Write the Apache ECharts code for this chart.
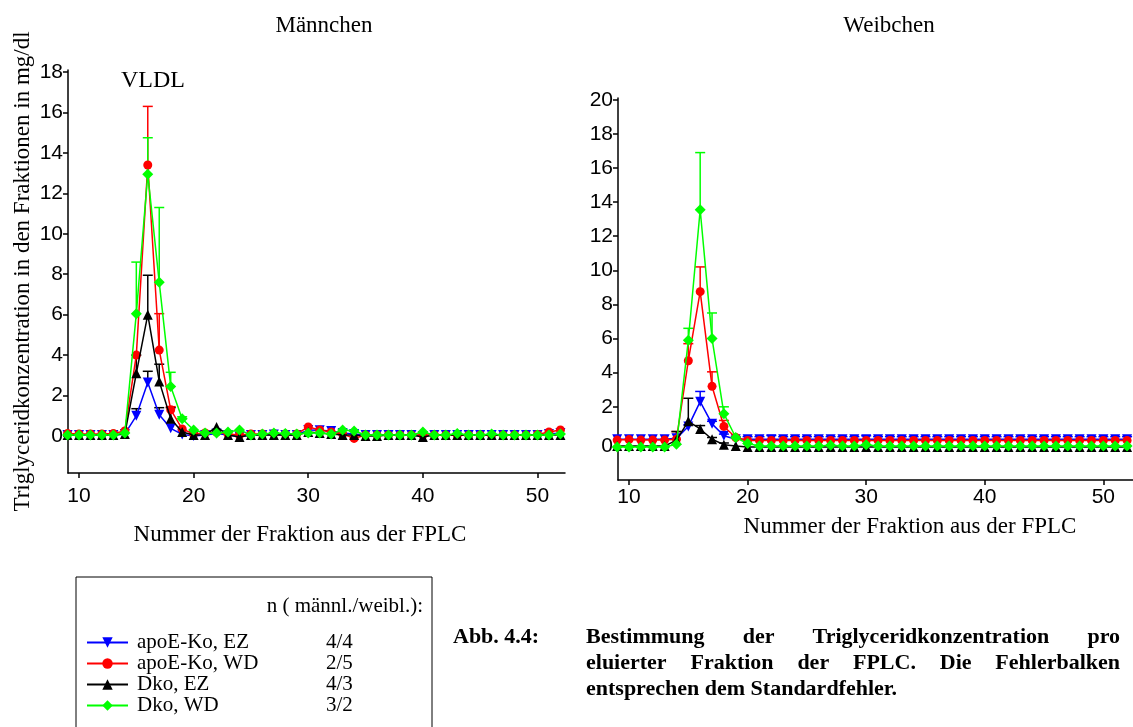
<!DOCTYPE html>
<html><head><meta charset="utf-8">
<script src="https://cdn.jsdelivr.net/npm/echarts@6/dist/echarts.min.js"></script>
<style>html,body{margin:0;padding:0;background:#fff}#c{width:1133px;height:727px}</style>
</head><body><div id="c"></div>
<script>
// ---------- DATA ----------
const fractions = [9,10,11,12,13,14,15,16,17,18,19,20,21,22,23,24,25,26,27,28,29,30,31,32,33,34,35,36,37,38,39,40,41,42,43,44,45,46,47,48,49,50,51,52];
const xTicks = [10,20,30,40,50];
const yTicksM = [0,2,4,6,8,10,12,14,16,18];
const yTicksW = [0,2,4,6,8,10,12,14,16,18,20];
const seriesNames = ['apoE-Ko, EZ','apoE-Ko, WD','Dko, EZ','Dko, WD'];
const nCounts = ['4/4','2/5','4/3','3/2'];

// Männchen (males)
const blueM  = [0.05,0.05,0.05,0.05,0.05,0.1,1.0,2.65,1.05,0.38,0.08,0.0,0.05,0.12,0.05,-0.02,0.05,0.05,0.08,0.05,0.05,0.3,0.28,0.25,0.15,0.1,0.05,0.05,0.05,0.05,0.05,0.0,0.05,0.05,0.05,0.05,0.05,0.05,0.05,0.05,0.05,0.05,0.1,0.15];
const redM   = [0.12,0.1,0.1,0.1,0.12,0.25,4.0,13.4,4.25,1.3,0.35,0.1,0.15,0.2,0.1,0.05,0.1,0.1,0.12,0.1,0.1,0.45,0.3,0.2,0.1,-0.12,0.05,0.05,0.05,0.05,0.05,0.05,0.05,0.05,0.05,0.05,0.05,0.05,0.05,0.05,0.05,0.08,0.2,0.3];
const blackM = [0.05,0.05,0.05,0.05,0.05,0.1,3.1,6.0,2.7,0.85,0.2,0.05,0.05,0.45,0.05,-0.05,0.05,0.05,0.05,0.05,0.05,0.2,0.15,0.1,0.05,0.05,0.0,0.0,0.05,0.05,0.05,-0.05,0.05,0.05,0.05,0.05,0.05,0.05,0.05,0.05,0.05,0.05,0.05,0.05];
const greenM = [0.05,0.05,0.05,0.05,0.05,0.15,6.05,12.95,7.6,2.45,0.85,0.3,0.15,0.15,0.2,0.3,0.05,0.1,0.15,0.12,0.1,0.15,0.15,0.1,0.3,0.25,0.05,0.05,0.05,0.05,0.05,0.2,0.05,0.05,0.12,0.05,0.05,0.1,0.05,0.05,0.05,0.05,0.05,0.1];
const blueErrM  = [0,0,0,0,0,0,0.35,0.55,0.35,0,0,0,0,0,0,0,0,0,0,0,0,0,0,0,0,0,0,0,0,0,0,0,0,0,0,0,0,0,0,0,0,0,0,0];
const redErrM   = [0,0,0,0,0,0,0,2.9,1.8,0.15,0,0,0,0,0,0,0,0,0,0,0,0,0,0,0,0,0,0,0,0,0,0,0,0,0,0,0,0,0,0,0,0,0,0];
const blackErrM = [0,0,0,0,0,0,0.9,1.95,0.85,0.55,0,0,0,0,0,0,0,0,0,0,0,0,0,0,0,0,0,0,0,0,0,0,0,0,0,0,0,0,0,0,0,0,0,0];
const greenErrM = [0,0,0,0,0,0,2.55,1.8,3.7,0.7,0.1,0,0,0,0,0,0,0,0,0,0,0,0,0,0,0,0,0,0,0,0,0,0,0,0,0,0,0,0,0,0,0,0,0];

// Weibchen (females)
const blueW  = [0.1,0.1,0.1,0.1,0.1,0.15,0.85,2.3,1.0,0.3,0.1,0.1,0.1,0.1,0.1,0.1,0.1,0.1,0.1,0.1,0.1,0.1,0.1,0.1,0.1,0.1,0.1,0.1,0.1,0.1,0.1,0.1,0.1,0.1,0.1,0.1,0.1,0.1,0.1,0.1,0.1,0.1,0.1,0.1];
const redW   = [0.05,0.08,0.05,0.05,0.05,0.1,4.7,8.75,3.2,0.85,0.2,0.03,0.03,0.03,0.03,0.03,0.03,0.03,0.03,0.03,0.03,0.03,0.03,0.03,0.03,0.03,0.03,0.03,0.03,0.03,0.03,0.03,0.03,0.03,0.03,0.03,0.03,0.03,0.03,0.03,0.03,0.03,0.03,0.03];
const blackW = [-0.3,-0.3,-0.3,-0.3,-0.3,0.05,1.15,0.7,0.1,-0.22,-0.3,-0.35,-0.35,-0.35,-0.35,-0.35,-0.35,-0.35,-0.35,-0.35,-0.35,-0.35,-0.35,-0.35,-0.35,-0.35,-0.35,-0.35,-0.35,-0.35,-0.35,-0.35,-0.35,-0.35,-0.35,-0.35,-0.35,-0.35,-0.35,-0.35,-0.35,-0.35,-0.35,-0.35];
const greenW = [-0.35,-0.35,-0.35,-0.35,-0.35,-0.2,5.9,13.55,6.0,1.6,0.2,-0.15,-0.3,-0.3,-0.3,-0.3,-0.3,-0.3,-0.25,-0.3,-0.3,-0.22,-0.3,-0.3,-0.3,-0.3,-0.3,-0.3,-0.3,-0.3,-0.3,-0.3,-0.3,-0.3,-0.3,-0.3,-0.3,-0.3,-0.3,-0.3,-0.3,-0.3,-0.3,-0.3];
const blueErrW  = [0,0,0,0,0,0,0.1,0.6,0.15,0.1,0.15,0.15,0.15,0.22,0.15,0.15,0.15,0.15,0.15,0.15,0.15,0.2,0.15,0.15,0.15,0.15,0.15,0.15,0.15,0.15,0.15,0.15,0.15,0.15,0.15,0.15,0.15,0.15,0.15,0.15,0.15,0.15,0.15,0.15];
const redErrW   = [0,0,0,0,0,0.45,1.0,1.45,0.85,0.35,0,0,0,0,0,0,0,0,0,0,0,0,0,0,0,0,0,0,0,0,0,0,0,0,0,0,0,0,0,0,0,0,0,0];
const blackErrW = [0,0,0,0,0,0.5,1.35,0.2,0.1,0.1,0,0,0,0,0,0,0,0,0,0,0,0,0,0,0,0,0,0,0,0,0,0,0,0,0,0,0,0,0,0,0,0,0,0];
const greenErrW = [0,0,0,0,0,0,0.7,3.35,1.5,0.4,0,0,0,0,0,0,0,0,0,0,0,0,0,0,0,0,0,0,0,0,0,0,0,0,0,0,0,0,0,0,0,0,0,0];

const captionLines = [
  'Bestimmung der Triglyceridkonzentration pro',
  'eluierter Fraktion der FPLC. Die Fehlerbalken',
  'entsprechen dem Standardfehler.'
];

// ---------- STYLE ----------
const SERIF = '"Liberation Serif","Times New Roman",serif';
const SANS = '"Liberation Sans",Arial,sans-serif';
const colors = ['#0000ff','#ff0000','#000000','#00ff00'];
const symbols = ['triangle','circle','triangle','diamond'];
const rotates = [180,0,0,0];
const sizes = [10,9,10,11];
const TICKFONT = 21;

function pairs(vals){ return fractions.map((f,i)=>[f, vals[i]]); }
function errData(vals, errs){ return fractions.map((f,i)=>[f, vals[i], errs[i]]).filter(d=>d[2]>0); }

function errSeries(idx, vals, errs, color){
  return {
    type:'custom', xAxisIndex:idx, yAxisIndex:idx, data: errData(vals, errs), z:2, silent:true,
    renderItem:function(params, api){
      const p0 = api.coord([api.value(0), api.value(1)]);
      const p1 = api.coord([api.value(0), api.value(1)+api.value(2)]);
      const st = {stroke:color, lineWidth:1.5};
      return {type:'group', children:[
        {type:'line', shape:{x1:p0[0],y1:p0[1],x2:p1[0],y2:p1[1]}, style:st},
        {type:'line', shape:{x1:p1[0]-5,y1:p1[1],x2:p1[0]+5,y2:p1[1]}, style:st}
      ]};
    }
  };
}
function lineSeries(idx, k, vals){
  return {
    type:'line', name:seriesNames[k], xAxisIndex:idx, yAxisIndex:idx, data:pairs(vals),
    symbol:symbols[k], symbolRotate:rotates[k], symbolSize:sizes[k], showSymbol:true,
    lineStyle:{color:colors[k], width:1.5}, itemStyle:{color:colors[k]}, z:3+k, clip:false
  };
}
function xAxis(idx, min, max, labelMargin){
  return {type:'value', gridIndex:idx, min:min, max:max,
    axisLine:{show:true, onZero:false, lineStyle:{color:'#000', width:1.5}},
    axisTick:{show:true, length:5, lineStyle:{color:'#000', width:1.5}, customValues:xTicks},
    axisLabel:{color:'#000', fontFamily:SANS, fontSize:TICKFONT, margin:labelMargin, customValues:xTicks},
    splitLine:{show:false}};
}
function yAxis(idx, min, max, ticks, extra, labelExtra){
  return Object.assign({type:'value', gridIndex:idx, min:min, max:max,
    axisLine:{show:true, onZero:false, lineStyle:{color:'#000', width:1.5}},
    axisTick:{show:true, length:5, lineStyle:{color:'#000', width:1.5}, customValues:ticks},
    axisLabel:Object.assign({color:'#000', fontFamily:SANS, fontSize:TICKFONT, margin:5, customValues:ticks}, labelExtra||{}),
    splitLine:{show:false}}, extra||{});
}

// justified caption lines (layout only)
const mctx = document.createElement('canvas').getContext('2d');
const CAPFONT = 'bold 22px ' + SERIF;
mctx.font = CAPFONT;
function justified(text, x0, x1, y, justify){
  const words = text.split(' ');
  if(!justify){ return [{type:'text', x:x0, y:y, style:{text:text, font:CAPFONT, fill:'#000', textVerticalAlign:'middle'}}]; }
  const widths = words.map(w=>mctx.measureText(w).width);
  const total = widths.reduce((a,b)=>a+b,0);
  const gap = (x1-x0-total)/(words.length-1);
  let x = x0; const out = [];
  words.forEach((w,i)=>{ out.push({type:'text', x:x, y:y, style:{text:w, font:CAPFONT, fill:'#000', textVerticalAlign:'middle'}}); x += widths[i]+gap; });
  return out;
}

const chart = echarts.init(document.getElementById('c'), null, {renderer:'canvas'});
const legendFmt = {};
seriesNames.forEach((n,i)=>legendFmt[n]=nCounts[i]);

const graphics = [
  {type:'rect', shape:{x:76, y:577, width:356, height:170}, style:{fill:'none', stroke:'#000', lineWidth:1}},
  {type:'text', x:423, y:606, style:{text:'n ( männl./weibl.):', font:'21px '+SERIF, fill:'#000', textAlign:'right', textVerticalAlign:'middle'}},
  {type:'text', x:300, y:535, style:{text:'Nummer der Fraktion aus der FPLC', font:'23px '+SERIF, fill:'#000', textAlign:'center', textVerticalAlign:'middle'}},
  {type:'text', x:910, y:527, style:{text:'Nummer der Fraktion aus der FPLC', font:'23px '+SERIF, fill:'#000', textAlign:'center', textVerticalAlign:'middle'}},
  {type:'text', x:453, y:637, style:{text:'Abb. 4.4:', font:CAPFONT, fill:'#000', textVerticalAlign:'middle'}}
].concat(
  justified(captionLines[0], 586, 1120, 637, true),
  justified(captionLines[1], 586, 1120, 663, true),
  justified(captionLines[2], 586, 1120, 689, false)
);

chart.setOption({
  animation:false,
  backgroundColor:'#fff',
  title:[
    {text:'Männchen', left:319, top:9, textAlign:'center', textStyle:{fontFamily:SERIF, fontWeight:'normal', fontSize:23, color:'#000'}},
    {text:'Weibchen', left:884, top:9, textAlign:'center', textStyle:{fontFamily:SERIF, fontWeight:'normal', fontSize:23, color:'#000'}},
    {text:'VLDL', left:148, top:64, textAlign:'center', textStyle:{fontFamily:SERIF, fontWeight:'normal', fontSize:24, color:'#000'}}
  ],
  grid:[
    {left:68, right:568, top:70, bottom:254},
    {left:618, right:0, top:98, bottom:247}
  ],
  xAxis:[ xAxis(0, 9.04, 52.4, 13), xAxis(1, 9.07, 52.5, 7) ],
  yAxis:[
    yAxis(0, -1.83, 18.1, yTicksM, {name:'Triglyceridkonzentration in den Fraktionen in mg/dl', nameLocation:'middle', nameGap:34,
      nameTextStyle:{fontFamily:SERIF, fontSize:23, color:'#000'}}),
    yAxis(1, -2.29, 20.1, yTicksW, null, {
      formatter:function(v){ return v===0 ? '{z|0}' : String(v); },
      rich:{z:{fontFamily:SANS, fontSize:TICKFONT, color:'#000', padding:[10,0,0,0]}}
    })
  ],
  legend:{
    orient:'vertical', left:81, top:627, itemWidth:41, itemHeight:13, itemGap:0, selectedMode:false,
    data:seriesNames,
    formatter:function(n){ return '{a|'+n+'}{b|'+legendFmt[n]+'}'; },
    textStyle:{fontFamily:SERIF, fontSize:21, color:'#000',
      rich:{a:{fontFamily:SERIF, fontSize:21, width:189, padding:[0,0,0,4], lineHeight:22}, b:{fontFamily:SERIF, fontSize:21, lineHeight:22}}}
  },
  graphic:graphics,
  series:[
    errSeries(0, blueM, blueErrM, '#000000'),
    errSeries(0, redM, redErrM, colors[1]),
    errSeries(0, blackM, blackErrM, colors[2]),
    errSeries(0, greenM, greenErrM, colors[3]),
    lineSeries(0, 0, blueM), lineSeries(0, 1, redM), lineSeries(0, 2, blackM), lineSeries(0, 3, greenM),
    errSeries(1, blueW, blueErrW, colors[0]),
    errSeries(1, redW, redErrW, colors[1]),
    errSeries(1, blackW, blackErrW, colors[2]),
    errSeries(1, greenW, greenErrW, colors[3]),
    lineSeries(1, 0, blueW), lineSeries(1, 1, redW), lineSeries(1, 2, blackW), lineSeries(1, 3, greenW)
  ]
});
</script></body></html>
